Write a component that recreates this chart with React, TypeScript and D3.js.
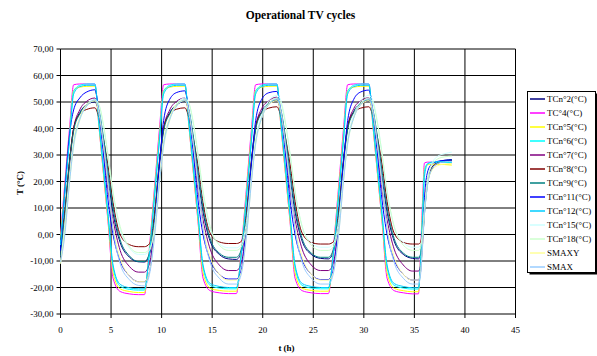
import React from "react";
import * as d3 from "d3";

const hours = [
  0, 0.4, 0.9, 1.3, 1.9, 2.6, 3.4, 3.8, 4.2, 4.7, 5.2, 5.9, 6.8, 7.7,
  8.3, 8.8, 9.3, 9.8, 10.2, 10.8, 11.5, 12.3, 12.7, 13.1, 13.6, 14.1, 14.8, 15.7, 16.6,
  17.4, 17.9, 18.4, 18.9, 19.3, 19.9, 20.6, 21.4, 21.8, 22.2, 22.7, 23.2, 23.9, 24.8, 25.7,
  26.5, 27.0, 27.5, 28.0, 28.4, 29.0, 29.7, 30.5, 30.9, 31.3, 31.8, 32.3, 33.0, 33.9, 34.8,
  35.4, 35.6, 35.8, 36.0, 36.3, 36.7, 37.3, 38.0, 38.7,
];

const tcn2 = [
  -6.5, 6.5, 28, 40, 46, 49, 50, 46, 36, 21, 8, -3, -8.5, -10.3,
  -10.4, -7.5, 6.5, 28, 40, 46, 49, 50.2, 46.5, 36.5, 21.5, 8.5, -2.5, -7.5, -9.2,
  -9.4, -6.5, 7, 28.5, 40.5, 46.5, 49.5, 50.5, 46.5, 36.5, 21.5, 8.5, -2.5, -7.5, -9.0,
  -9.2, -6.5, 7, 28.5, 40.5, 46.5, 49.5, 50.4, 46.5, 36.5, 21.5, 8.5, -2.5, -7.5, -9.0,
  -9.2, -8, -2, 10, 20, 25, 27.3, 28, 28.3,
];
const tc4 = [
  0, 18, 40.5, 56.5, 56.8, 56.8, 56.8, 40.8, 24.8, 4.8, -16.5, -21.5, -22.4, -22.7,
  -22.7, -4.5, 18, 40.5, 56.5, 56.8, 56.8, 56.8, 40.8, 24.8, 4.8, -16.5, -21.2, -22.0, -22.3,
  -22.3, -4.5, 18, 40.5, 56.5, 56.8, 56.8, 56.8, 40.8, 24.8, 4.8, -16.5, -21.2, -22.0, -22.3,
  -22.3, -4.5, 18, 40.5, 56.5, 56.8, 56.8, 56.8, 40.8, 24.8, 4.8, -16.5, -21.2, -22.0, -22.4,
  -22.4, -8, 12, 27, 27.3, 27.3, 27.3, 27.2, 27.0,
];
const tcn5 = [
  -1.5, 16.5, 38.5, 54.5, 55.6, 55.9, 56.0, 41, 25, 5.5, -14.5, -20.5, -21.5, -21.9,
  -21.9, -5.5, 16.5, 38.5, 54.5, 55.6, 55.9, 56.0, 41, 25, 5.5, -14.5, -20.3, -21.1, -21.4,
  -21.4, -5.5, 16.5, 38.5, 54.5, 55.6, 55.9, 56.0, 41, 25, 5.5, -14.5, -20.3, -21.1, -21.4,
  -21.4, -5.5, 16.5, 38.5, 54.5, 55.6, 55.9, 56.0, 41, 25, 5.5, -14.5, -20.3, -21.2, -21.6,
  -21.6, -10, 9, 25, 26.3, 26.5, 26.5, 26.4, 26.2,
];
const tcn6 = [
  -3, 15, 37, 54, 56.3, 56.8, 56.8, 42, 26.5, 7, -12.5, -19.5, -20.7, -21.0,
  -21.0, -6.5, 15, 37, 54, 56.3, 56.8, 56.8, 42, 26.5, 7, -12.5, -19.2, -20.2, -20.5,
  -20.5, -6.5, 15, 37, 54, 56.3, 56.8, 56.8, 42, 26.5, 7, -12.5, -19.2, -20.2, -20.5,
  -20.5, -6.5, 15, 37, 54, 56.3, 56.8, 56.8, 42, 26.5, 7, -12.5, -19.2, -20.2, -20.6,
  -20.6, -11, 7, 24, 26.8, 27.1, 27.2, 27.2, 27.1,
];
const tcn7 = [
  -8, 4, 26, 40, 47, 50.3, 51.5, 45.5, 34, 17, 5.5, -6, -12, -14.2,
  -14.2, -11, 4, 26, 40, 47, 50.3, 51.5, 45.5, 34, 17, 5.5, -5.5, -11.5, -13.6,
  -13.6, -10.5, 4.5, 26.5, 40.5, 47.5, 50.5, 51.8, 45.5, 34, 17, 5.5, -5.5, -11.5, -13.6,
  -13.6, -10.5, 4.5, 26.5, 40.5, 47.5, 50.5, 51.6, 45.5, 34, 17, 5.5, -5.5, -11.5, -13.8,
  -13.8, -12, -4, 9, 19.5, 24.5, 26.8, 27.6, 27.9,
];
const tcn8 = [
  -2, 8, 28, 40, 45.5, 47.2, 47.8, 44, 37, 26, 12, 0, -3.8, -4.6,
  -4.6, -3.5, 8, 28, 40, 45.5, 47.3, 47.8, 44, 37, 26, 12, 0.5, -2.8, -3.4,
  -3.4, -2.5, 9, 28.5, 40.5, 46, 47.7, 48.2, 44.5, 37.5, 26.5, 12.5, 0.5, -3, -3.6,
  -3.6, -2.7, 9, 28.5, 40.5, 46, 47.7, 48.2, 44.5, 37.5, 26.5, 12.5, 0.5, -3, -3.6,
  -3.6, -3, 1.5, 11, 20, 25, 27, 27.7, 27.9,
];
const tcn9 = [
  -8, 6, 27, 39, 45.5, 49, 50.5, 47, 38, 24, 10, -2, -8, -10.2,
  -10.2, -7, 6, 27, 39, 45.5, 49, 50.5, 47, 38, 24, 10, -1.5, -7, -8.6,
  -8.6, -5.5, 7, 27.5, 39.5, 46, 49.5, 50.8, 47, 38, 24, 10, -1.5, -7, -8.6,
  -8.6, -5.5, 7, 27.5, 39.5, 46, 49.5, 50.8, 47, 38, 24, 10, -1.5, -7, -8.6,
  -8.6, -7.5, -2, 8, 19, 24.5, 27, 27.8, 28.1,
];
const tcn11 = [
  -6, 15, 38, 47, 51.5, 53.8, 54.6, 46, 32, 13, 0, -10, -15.5, -17.8,
  -17.8, -14, 3, 27, 43, 51, 53.6, 54.2, 46, 32, 13, 0, -9.5, -15, -16.8,
  -16.8, -13, 4, 27.5, 43, 51, 53.5, 54.0, 46, 32, 13, 0, -9.5, -15, -17.0,
  -17.0, -13, 4, 27.5, 43, 51, 53.8, 54.5, 46, 32, 13, 0, -9.5, -15, -17.2,
  -17.2, -14.5, -2, 14, 23.5, 26.5, 27.6, 28, 28.1,
];
const tcn12 = [
  -4, 14, 36, 53, 55.8, 56.3, 56.3, 42.5, 27, 8, -11.5, -18.8, -20.1, -20.5,
  -20.5, -7, 14, 36, 53, 55.8, 56.3, 56.3, 42.5, 27, 8, -11.5, -18.5, -19.6, -20.0,
  -20.0, -7, 14, 36, 53, 55.8, 56.3, 56.3, 42.5, 27, 8, -11.5, -18.5, -19.6, -20.0,
  -20.0, -7, 14, 36, 53, 55.8, 56.3, 56.3, 42.5, 27, 8, -11.5, -18.5, -19.6, -20.1,
  -20.1, -12, 5, 22, 26.5, 27.3, 27.5, 27.5, 27.4,
];
const tcn15 = [
  -10.9, 3, 22, 35, 44, 49, 51, 49, 42, 29, 15, 2, -5, -7.5,
  -7.5, -6, 3, 22, 35, 44, 49.5, 51.5, 49.5, 42.5, 29.5, 15, 2, -3.5, -5.0,
  -5.0, -3.5, 5, 23, 36, 45, 50.5, 52.5, 50.5, 43.5, 30.5, 16, 3, -3, -4.8,
  -4.8, -3.5, 5, 23, 36, 45, 50.5, 52.5, 50.5, 43.5, 30.5, 16, 3, -3, -4.8,
  -4.8, -4, 0, 9, 20, 26.5, 29.5, 30.5, 31.1,
];
const tcn18 = [
  -10.9, 2, 20, 33, 43, 48.5, 50.5, 49, 42.5, 30, 16, 3, -4.5, -6.8,
  -6.8, -5.5, 2, 20, 33, 43, 49, 51, 49.5, 43, 30.5, 16.5, 3, -4, -6,
  -6, -4.5, 3, 21, 34, 44, 49.5, 51.5, 49.5, 43, 30.5, 16.5, 3, -4, -6,
  -6, -4.5, 3, 21, 34, 44, 49.5, 51.5, 49.5, 43, 30.5, 16.5, 3, -4, -6,
  -6, -5, 0, 10, 21, 26, 28.5, 29.3, 29.6,
];
const smaxy = [
  -10.9, 0, 21, 35, 44, 49, 50.5, 46, 35, 19, 3, -9, -15.5, -17.8,
  -17.8, -14, 0, 21, 35, 44, 49, 50.5, 46, 35, 19, 3, -8.5, -15, -17.2,
  -17.2, -14, 0, 21, 35, 44, 49, 50.5, 46, 35, 19, 3, -8.5, -15, -17.2,
  -17.2, -14, 0, 21, 35, 44, 49, 50.5, 46, 35, 19, 3, -8.5, -15, -17.2,
  -17.2, -14.5, -4, 9, 19, 24, 26, 26.6, 26.8,
];
const smax = [
  -10.5, -1, 20, 34, 43.5, 48.5, 50.8, 47, 36, 20, 2, -11, -17, -19.2,
  -19.4, -15, -1, 20, 34, 43.5, 48.5, 50.8, 47, 36, 20, 2, -10.5, -16.5, -18.7,
  -18.7, -14.5, -0.5, 20.5, 34.5, 44, 49, 51.2, 47, 36, 20, 2, -10.5, -16.5, -18.7,
  -18.7, -14.5, -0.5, 20.5, 34.5, 44, 49, 51.2, 47, 36, 20, 2, -10.5, -16.5, -18.7,
  -18.7, -15.5, -5, 8, 18.5, 24.5, 26.8, 27.4, 27.6,
];

const seriesNames = [
  "TCn°2(°C)", "TC°4(°C)", "TCn°5(°C)", "TCn°6(°C)", "TCn°7(°C)", "TCn°8(°C)",
  "TCn°9(°C)", "TCn°11(°C)", "TCn°12(°C)", "TCn°15(°C)", "TCn°18(°C)", "SMAXY", "SMAX",
];
const seriesValues = [tcn2, tc4, tcn5, tcn6, tcn7, tcn8, tcn9, tcn11, tcn12, tcn15, tcn18, smaxy, smax];
const seriesColors = [
  "#000080", "#FF00FF", "#FFFF00", "#00FFFF", "#800080", "#800000",
  "#008080", "#0000FF", "#00CCFF", "#CCFFFF", "#CCFFCC", "#FFFF99", "#99CCFF",
];

const yTicks = [-30, -20, -10, 0, 10, 20, 30, 40, 50, 60, 70];
const xTicks = [0, 5, 10, 15, 20, 25, 30, 35, 40, 45];

const FONT = "'Liberation Serif', 'Times New Roman', serif";

export default function App() {
  const x = d3.scaleLinear().domain([0, 45]).range([60.5, 515.5]);
  const y = d3.scaleLinear().domain([-30, 70]).range([314, 49]);
  const fmt = (v: number) => v.toFixed(2).replace(".", ",");

  const line = d3
    .line<number>()
    .x((_, i) => x(hours[i]))
    .y((d) => y(d))
    .curve(d3.curveMonotoneX);

  return (
    <div style={{ position: "absolute", left: 0, top: 0 }}>
      <style>{`body{margin:0}`}</style>
      <svg width={597} height={356} style={{ display: "block", background: "#fff" }} fontFamily={FONT}>
        <rect x={0} y={0} width={597} height={356} fill="#fff" />
        <text x={300.5} y={19} textAnchor="middle" fontSize={11.5} fontWeight="bold" fill="#000">
          Operational TV cycles
        </text>

        {/* gridlines */}
        {yTicks.map((t) => (
          <line key={"gy" + t} x1={x(0)} x2={x(45)} y1={y(t)} y2={y(t)} stroke="#000" strokeWidth={1} />
        ))}
        {xTicks.map((t) => (
          <line key={"gx" + t} x1={x(t)} x2={x(t)} y1={y(-30)} y2={y(70)} stroke="#000" strokeWidth={1} />
        ))}

        {/* axis ticks */}
        {yTicks.map((t) => (
          <line key={"ty" + t} x1={x(0) - 4} x2={x(0)} y1={y(t)} y2={y(t)} stroke="#000" strokeWidth={1} />
        ))}
        {xTicks.map((t) => (
          <line key={"tx" + t} x1={x(t)} x2={x(t)} y1={y(-30)} y2={y(-30) + 4} stroke="#000" strokeWidth={1} />
        ))}

        {/* tick labels */}
        {yTicks.map((t) => (
          <text key={"ly" + t} x={53.5} y={y(t)} dy="0.35em" textAnchor="end" fontSize={9} fill="#000">
            {fmt(t)}
          </text>
        ))}
        {xTicks.map((t) => (
          <text key={"lx" + t} x={x(t)} y={333} textAnchor="middle" fontSize={9} fill="#000">
            {t}
          </text>
        ))}

        <text x={286.5} y={351} textAnchor="middle" fontSize={9} fontWeight="bold" fill="#000">
          t (h)
        </text>
        <text
          transform={`translate(20,183) rotate(-90)`}
          textAnchor="middle"
          dominantBaseline="central"
          fontSize={9}
          fontWeight="bold"
          fill="#000"
        >
          T (°C)
        </text>

        {/* series */}
        <g fill="none" strokeWidth={1}>
          {seriesValues.map((vals, i) => (
            <path key={"s" + i} d={line(vals) || ""} stroke={seriesColors[i]} />
          ))}
        </g>

        {/* legend */}
        <rect x={529.5} y={93.5} width={68} height={181} fill="#000" />
        <rect x={527.5} y={91.5} width={68} height={181} fill="#fff" stroke="#000" strokeWidth={1} />
        {seriesNames.map((name, i) => {
          const ly = 99 + i * 14;
          return (
            <g key={"lg" + i}>
              <line x1={530} x2={545} y1={ly} y2={ly} stroke={seriesColors[i]} strokeWidth={1.5} />
              <text x={547} y={ly} dy="0.35em" fontSize={9} fill="#000">
                {name}
              </text>
            </g>
          );
        })}
      </svg>
    </div>
  );
}
